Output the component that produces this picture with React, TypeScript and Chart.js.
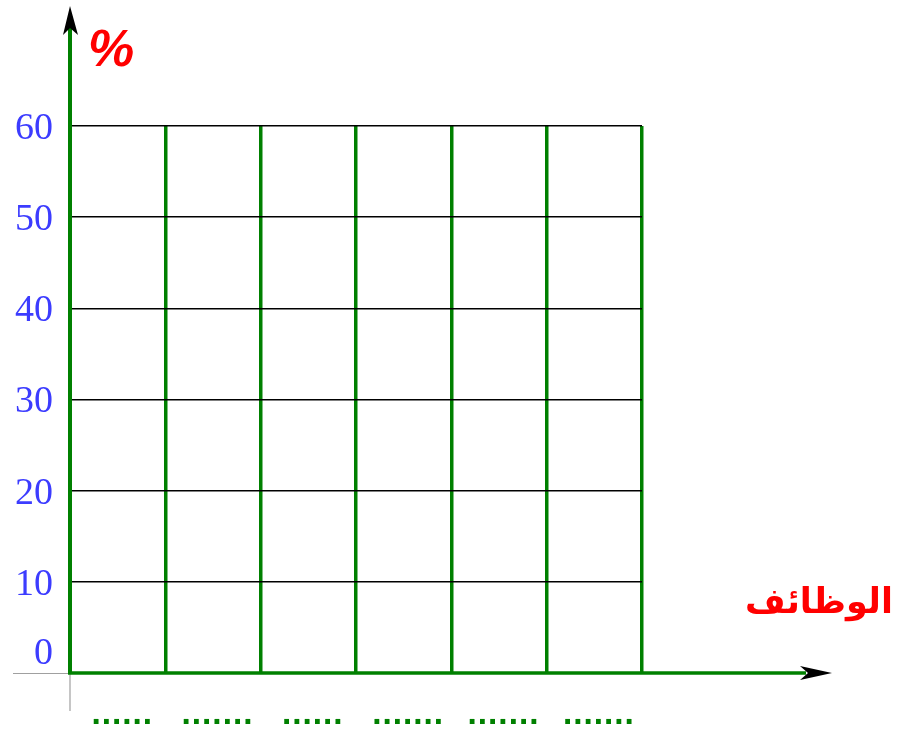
import React, { useEffect, useRef } from "react";
import { Chart, registerables } from "chart.js";

Chart.register(...registerables);

// Categories (jobs) are blank placeholders in the worksheet
const categories: string[] = ["......", ".......", "......", ".......", ".......", "......."];
// The worksheet grid is empty: no values filled in yet
const values: (number | null)[] = [null, null, null, null, null, null];
const yTicks: number[] = [0, 10, 20, 30, 40, 50, 60];
const yUnit = "%";
const xTitle = "الوظائف";

const GREEN = "#008000";

const decorPlugin = {
  id: "decor",
  afterDraw(chart: any) {
    const ctx: CanvasRenderingContext2D = chart.ctx;
    const xs = chart.scales.x;
    const ys = chart.scales.y;
    const area = chart.chartArea;
    const x0 = area.left;
    const y0 = ys.getPixelForValue(0);
    ctx.save();
    // thin gray extensions
    ctx.strokeStyle = "#a0a0a0";
    ctx.lineWidth = 1.2;
    ctx.beginPath();
    ctx.moveTo(13, y0 + 0.5);
    ctx.lineTo(x0, y0 + 0.5);
    ctx.moveTo(x0, y0);
    ctx.lineTo(x0, y0 + 38);
    ctx.stroke();
    // y axis
    ctx.strokeStyle = GREEN;
    ctx.lineWidth = 4;
    ctx.beginPath();
    ctx.moveTo(x0, 18);
    ctx.lineTo(x0, y0 + 1);
    ctx.stroke();
    // x axis
    ctx.lineWidth = 3.5;
    ctx.beginPath();
    ctx.moveTo(x0 - 2, y0);
    ctx.lineTo(806, y0);
    ctx.stroke();
    // arrows
    ctx.fillStyle = "#000";
    ctx.beginPath();
    ctx.moveTo(x0, 6);
    ctx.lineTo(x0 - 7, 35);
    ctx.lineTo(x0, 28);
    ctx.lineTo(x0 + 8, 35);
    ctx.closePath();
    ctx.fill();
    ctx.beginPath();
    ctx.moveTo(832, y0);
    ctx.lineTo(800, y0 - 7);
    ctx.lineTo(808, y0);
    ctx.lineTo(800, y0 + 7);
    ctx.closePath();
    ctx.fill();
    // y tick labels
    ctx.fillStyle = "#3c3cff";
    ctx.font = "38px 'Liberation Serif', serif";
    ctx.textAlign = "right";
    ctx.textBaseline = "middle";
    yTicks.forEach((v) => {
      const py = ys.getPixelForValue(v);
      ctx.fillText(String(v), 53, v === 0 ? py - 19 : py + 3);
    });
    // x category labels (placeholders)
    ctx.fillStyle = GREEN;
    ctx.font = "bold 27px 'DejaVu Sans', sans-serif";
    ctx.textAlign = "center";
    ctx.textBaseline = "alphabetic";
    categories.forEach((c, i) => {
      ctx.fillText(c, xs.getPixelForValue(i) + 4, 724);
    });
    // titles
    ctx.fillStyle = "#ff0000";
    ctx.font = "italic bold 52px 'Liberation Sans', sans-serif";
    ctx.textAlign = "left";
    ctx.textBaseline = "alphabetic";
    ctx.fillText(yUnit, 88, 66);
    ctx.font = "bold 35px 'DejaVu Sans', sans-serif";
    ctx.textAlign = "right";
    ctx.fillText(xTitle, 893, 613);
    ctx.restore();
  },
};

export default function App() {
  const ref = useRef<HTMLCanvasElement>(null);
  useEffect(() => {
    if (!ref.current) return;
    const chart = new Chart(ref.current, {
      type: "bar",
      data: {
        labels: categories,
        datasets: [{ data: values as any, backgroundColor: GREEN }],
      },
      options: {
        animation: false,
        responsive: false,
        layout: { padding: { left: 70, right: 258, top: 126, bottom: 56 } },
        plugins: { legend: { display: false }, tooltip: { enabled: false } },
        scales: {
          x: {
            type: "category",
            offset: true,
            grid: { offset: true, color: GREEN, lineWidth: 3.5, drawTicks: false },
            border: { display: false },
            ticks: { display: false },
          },
          y: {
            min: 0,
            max: 60,
            ticks: { stepSize: 10, display: false },
            grid: { color: "#000", lineWidth: 1.5, drawTicks: false },
            border: { display: false },
          },
        },
      },
      plugins: [decorPlugin],
    });
    return () => chart.destroy();
  }, []);
  return (
    <div style={{ position: "fixed", left: 0, top: 0, width: 900, height: 729, background: "#fff" }}>
      <canvas ref={ref} width={900} height={729} />
    </div>
  );
}
